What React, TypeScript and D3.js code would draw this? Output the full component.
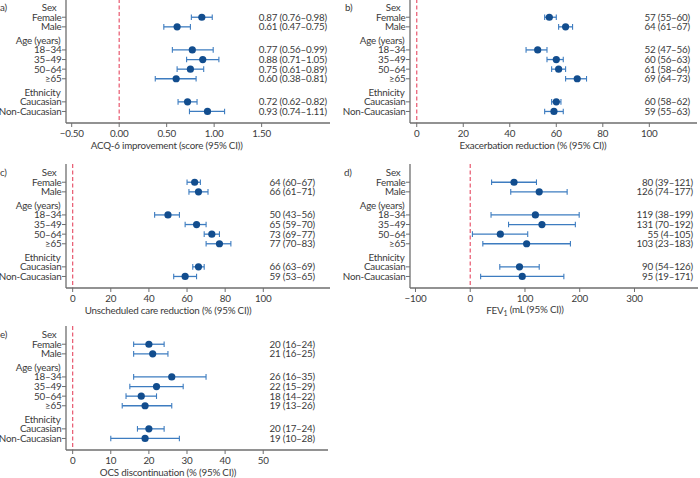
import React from "react";
import * as d3 from "d3";

const GROUPS = ["Sex", "Age (years)", "Ethnicity"];
const SUBGROUPS = [
  ["Female", "Male"],
  ["18–34", "35–49", "50–64", "≥65"],
  ["Caucasian", "Non-Caucasian"],
];

// a) ACQ-6
const acqEst = [0.87, 0.61, 0.77, 0.88, 0.75, 0.6, 0.72, 0.93];
const acqLo = [0.76, 0.47, 0.56, 0.71, 0.61, 0.38, 0.62, 0.74];
const acqHi = [0.98, 0.75, 0.99, 1.05, 0.89, 0.81, 0.82, 1.11];
const acqTicks = [-0.5, 0, 0.5, 1, 1.5];

// b) exacerbations
const exaEst = [57, 64, 52, 60, 61, 69, 60, 59];
const exaLo = [55, 61, 47, 56, 58, 64, 58, 55];
const exaHi = [60, 67, 56, 63, 64, 73, 62, 63];
const exaTicks = [0, 20, 40, 60, 80, 100];

// c) unscheduled care
const ucEst = [64, 66, 50, 65, 73, 77, 66, 59];
const ucLo = [60, 61, 43, 59, 69, 70, 63, 53];
const ucHi = [67, 71, 56, 70, 77, 83, 69, 65];
const ucTicks = [0, 20, 40, 60, 80, 100];

// d) FEV1
const fevEst = [80, 126, 119, 131, 55, 103, 90, 95];
const fevLo = [39, 74, 38, 70, 4, 23, 54, 19];
const fevHi = [121, 177, 199, 192, 105, 183, 126, 171];
const fevTicks = [-100, 0, 100, 200, 300];

// e) OCS
const ocsEst = [20, 21, 26, 22, 18, 19, 20, 19];
const ocsLo = [16, 16, 16, 15, 14, 13, 17, 10];
const ocsHi = [24, 25, 35, 29, 22, 26, 24, 28];
const ocsTicks = [0, 10, 20, 30, 40, 50];

const FONT = "Lato, sans-serif";
const TEXT = "#3a3a3a";
const AXIS = "#6e6e6e";
const CI = "#3d7cc0";
const DOT = "#124d8e";
const ZERO = "#e8576e";

type Row = { label: string; pos: number; header: boolean; i: number };

function buildRows(): Row[] {
  const rows: Row[] = [];
  let pos = 0;
  let i = 0;
  GROUPS.forEach((g, gi) => {
    if (gi > 0) pos += 0.4;
    rows.push({ label: g, pos, header: true, i: -1 });
    pos += 1;
    SUBGROUPS[gi].forEach((s) => {
      rows.push({ label: s, pos, header: false, i });
      pos += 1;
      i++;
    });
  });
  return rows;
}

const ROWS = buildRows();

type PanelProps = {
  tag: string;
  left: number;
  right: number;
  axisY: number;
  domain: [number, number];
  ticks: number[];
  tickFmt: (v: number) => string;
  est: number[];
  lo: number[];
  hi: number[];
  valFmt: (v: number) => string;
  valueX: number;
  xlabel: React.ReactNode;
  tagX: number;
};

function Panel(p: PanelProps) {
  const x = d3.scaleLinear().domain(p.domain).range([p.left, p.right]);
  const y = d3.scaleLinear().domain([-1, 12]).range([p.axisY - 125, p.axisY]);
  const top = p.axisY - 124;
  const mid = (x(p.ticks[0]) + x(p.ticks[p.ticks.length - 1])) / 2;
  return (
    <g fontFamily={FONT} fontSize={9.8} letterSpacing={-0.2} fill={TEXT}>
      <text x={p.tagX} y={y(0)} dy="0.35em">{p.tag}</text>
      {/* zero reference */}
      <line x1={x(0)} x2={x(0)} y1={top} y2={p.axisY} stroke={ZERO} strokeWidth={1.2} strokeDasharray="4,2.5" />
      {/* axes */}
      <line x1={p.left} x2={p.left} y1={top} y2={p.axisY} stroke={AXIS} strokeWidth={1.3} />
      <line x1={p.left} x2={p.right} y1={p.axisY} y2={p.axisY} stroke={AXIS} strokeWidth={1.3} />
      {p.ticks.map((t) => (
        <g key={t}>
          <line x1={x(t)} x2={x(t)} y1={p.axisY} y2={p.axisY + 4} stroke={AXIS} strokeWidth={1} />
          <text x={x(t)} y={p.axisY + 7} dy="0.71em" textAnchor="middle">{p.tickFmt(t)}</text>
        </g>
      ))}
      <text x={mid} y={p.axisY + 19} dy="0.71em" textAnchor="middle">{p.xlabel}</text>
      {ROWS.map((r) => (
        <g key={r.label}>
          {r.header ? (
            <text x={p.left - (r.label === "Sex" ? 9.5 : 5.5)} y={y(r.pos)} dy="0.35em" textAnchor="end">{r.label}</text>
          ) : (
            <>
              <line x1={p.left - 4} x2={p.left} y1={y(r.pos)} y2={y(r.pos)} stroke={AXIS} strokeWidth={1} />
              <text x={p.left - 4.5} y={y(r.pos)} dy="0.35em" textAnchor="end">{r.label}</text>
              <line x1={x(p.lo[r.i])} x2={x(p.hi[r.i])} y1={y(r.pos)} y2={y(r.pos)} stroke={CI} strokeWidth={1.3} />
              <line x1={x(p.lo[r.i])} x2={x(p.lo[r.i])} y1={y(r.pos) - 2.8} y2={y(r.pos) + 2.8} stroke={CI} strokeWidth={1.1} />
              <line x1={x(p.hi[r.i])} x2={x(p.hi[r.i])} y1={y(r.pos) - 2.8} y2={y(r.pos) + 2.8} stroke={CI} strokeWidth={1.1} />
              <circle cx={x(p.est[r.i])} cy={y(r.pos)} r={3.6} fill={DOT} />
              <text x={p.valueX} y={y(r.pos)} dy="0.35em" textAnchor="end">
                {`${p.valFmt(p.est[r.i])} (${p.valFmt(p.lo[r.i])}–${p.valFmt(p.hi[r.i])})`}
              </text>
            </>
          )}
        </g>
      ))}
    </g>
  );
}

const minus = (s: string) => s.replace("-", "−");
const f2 = (v: number) => minus(v.toFixed(2));
const f0 = (v: number) => minus(d3.format("d")(v));

export default function App() {
  return (
    <svg width={700} height={478} style={{ position: "absolute", left: 0, top: 0, background: "#fff" }}>
      <Panel tag="a)" tagX={0} left={66} right={330} axisY={123} domain={[-0.56, 2.22]} ticks={acqTicks}
        tickFmt={f2} est={acqEst} lo={acqLo} hi={acqHi} valFmt={f2} valueX={327}
        xlabel="ACQ-6 improvement (score (95% CI))" />
      <Panel tag="b)" tagX={345} left={410} right={697} axisY={123} domain={[-2.9, 120.5]} ticks={exaTicks}
        tickFmt={f0} est={exaEst} lo={exaLo} hi={exaHi} valFmt={f0} valueX={690}
        xlabel="Exacerbation reduction (% (95% CI))" />
      <Panel tag="c)" tagX={0} left={66} right={330} axisY={288} domain={[-3.5, 135]} ticks={ucTicks}
        tickFmt={f0} est={ucEst} lo={ucLo} hi={ucHi} valFmt={f0} valueX={315}
        xlabel="Unscheduled care reduction (% (95% CI))" />
      <Panel tag="d)" tagX={344} left={410} right={698} axisY={288} domain={[-110, 416]} ticks={fevTicks}
        tickFmt={f0} est={fevEst} lo={fevLo} hi={fevHi} valFmt={f0} valueX={693}
        xlabel={<>FEV<tspan fontSize={7} dy="0.3em">1</tspan><tspan dy="-0.3em"> (mL (95% CI))</tspan></>} />
      <Panel tag="e)" tagX={0} left={66} right={328} axisY={450} domain={[-1.75, 67]} ticks={ocsTicks}
        tickFmt={f0} est={ocsEst} lo={ocsLo} hi={ocsHi} valFmt={f0} valueX={315}
        xlabel="OCS discontinuation (% (95% CI))" />
    </svg>
  );
}
